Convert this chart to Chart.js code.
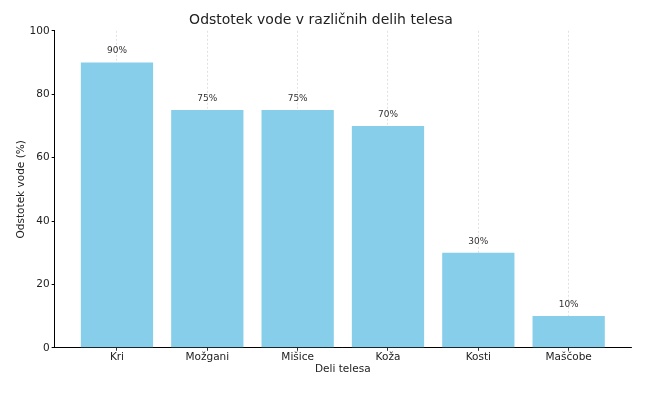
<!DOCTYPE html>
<html>
<head>
<meta charset="utf-8">
<script src="https://cdn.jsdelivr.net/npm/chart.js@4.4.0/dist/chart.umd.min.js"></script>
<style>
  html, body { margin: 0; padding: 0; background: #fff; }
  #wrap { width: 651px; height: 402px; }
</style>
</head>
<body>
<div id="wrap"><canvas id="waterChart"></canvas></div>
<script>
const categories = ['Kri', 'Možgani', 'Mišice', 'Koža', 'Kosti', 'Maščobe'];
const waterPercent = [90, 75, 75, 70, 30, 10];
const yTicks = [0, 20, 40, 60, 80, 100];

const font = 'DejaVu Sans';

// labels above each bar
const barLabels = {
  id: 'barLabels',
  afterDatasetsDraw(chart) {
    const ctx = chart.ctx;
    const meta = chart.getDatasetMeta(0);
    ctx.save();
    ctx.font = '9px "' + font + '"';
    ctx.fillStyle = '#333';
    ctx.textAlign = 'center';
    ctx.textBaseline = 'bottom';
    meta.data.forEach((bar, i) => {
      ctx.fillText(waterPercent[i] + '%', bar.x, bar.y - 7);
    });
    ctx.restore();
  }
};

new Chart(document.getElementById('waterChart'), {
  type: 'bar',
  data: {
    datasets: [{
      data: waterPercent.map((v, i) => ({ x: i, y: v })),
      backgroundColor: '#87CEEB',
      barPercentage: 0.8,
      categoryPercentage: 1
    }]
  },
  plugins: [barLabels],
  options: {
    responsive: true,
    maintainAspectRatio: false,
    animation: false,
    layout: { padding: { left: 11, right: 20, top: 6, bottom: 26 } },
    scales: {
      x: {
        type: 'linear',
        min: -0.69,
        max: 5.69,
        offset: false,
        afterBuildTicks: axis => { axis.ticks = categories.map((c, i) => ({ value: i })); },
        ticks: {
          callback: v => categories[v],
          color: '#222',
          font: { family: font, size: 10.5 },
          padding: 0,
          maxRotation: 0,
          autoSkip: false
        },
        grid: {
          offset: false,
          color: 'rgba(0,0,0,0.15)',
          lineWidth: 0.8,
          tickColor: '#000',
          tickLength: 3
        },
        border: { color: '#000', width: 1, dash: [2, 2] },
        title: { display: true, text: 'Deli telesa', color: '#222', font: { family: font, size: 10.5 }, padding: { top: 0, bottom: 0 } }
      },
      y: {
        min: 0,
        max: 100,
        afterBuildTicks: axis => { axis.ticks = yTicks.map(v => ({ value: v })); },
        ticks: {
          color: '#222',
          font: { family: font, size: 10.5 },
          padding: 2
        },
        grid: {
          drawOnChartArea: false,
          tickColor: '#000',
          tickLength: 3
        },
        border: { color: '#000', width: 1 },
        title: { display: true, text: 'Odstotek vode (%)', color: '#222', font: { family: font, size: 10.5 }, padding: { bottom: 0 } }
      }
    },
    plugins: {
      legend: { display: false },
      tooltip: { enabled: false },
      title: {
        display: true,
        text: 'Odstotek vode v različnih delih telesa',
        color: '#222',
        font: { family: font, size: 14, weight: 'normal' },
        padding: { top: 6, bottom: 2 }
      }
    }
  }
});
</script>
</body>
</html>
